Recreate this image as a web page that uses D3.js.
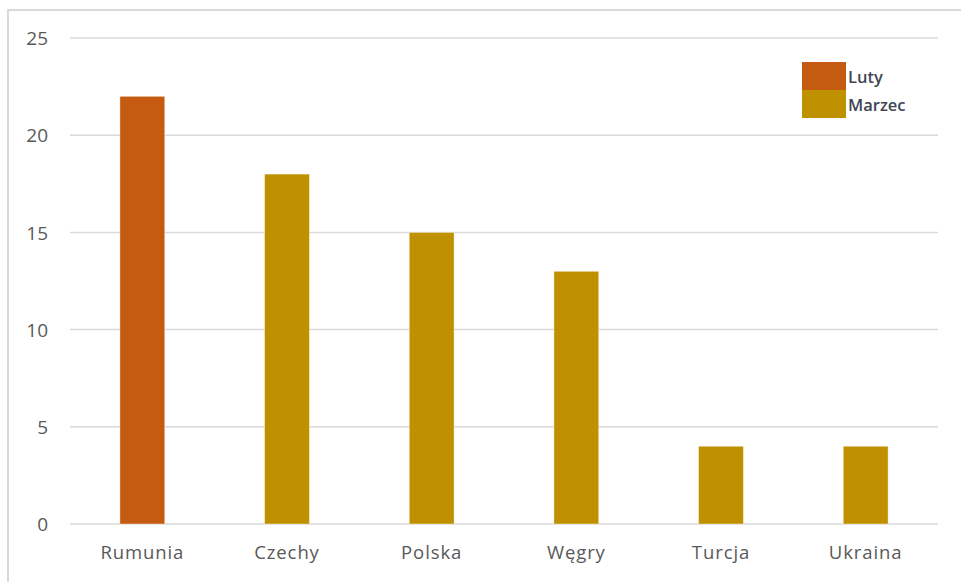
<!DOCTYPE html>
<html>
<head>
<meta charset="utf-8">
<script src="https://cdn.jsdelivr.net/npm/d3@7/dist/d3.min.js"></script>
<style>
  html, body { margin: 0; padding: 0; background: #fff; }
  svg { display: block; }
</style>
</head>
<body>
<svg id="chart" width="961" height="582"></svg>
<script>
// Data
const categories = ["Rumunia", "Czechy", "Polska", "Węgry", "Turcja", "Ukraina"];
const seriesNames = ["Luty", "Marzec"];
const luty   = [22, null, null, null, null, null];
const marzec = [null, 18, 15, 13, 4, 4];
const yTicks = [0, 5, 10, 15, 20, 25];
const seriesColors = ["#C55A11", "#BF9000"];

const svg = d3.select("#chart");
const W = 961, H = 582;

// Outer frame of the chart area
svg.append("rect")
  .attr("x", 8).attr("y", 10)
  .attr("width", W).attr("height", H)
  .attr("fill", "#fff")
  .attr("stroke", "#d9d9d9").attr("stroke-width", 2);

const plot = { left: 70, right: 938, top: 38, bottom: 524 };

const x = d3.scaleBand()
  .domain(categories)
  .range([plot.left, plot.right])
  .paddingInner(0.69)
  .paddingOuter(0.345);

const y = d3.scaleLinear()
  .domain([0, 25])
  .range([plot.bottom, plot.top]);

// Horizontal gridlines
svg.append("g")
  .selectAll("line")
  .data(yTicks)
  .join("line")
  .attr("x1", plot.left).attr("x2", plot.right)
  .attr("y1", d => y(d)).attr("y2", d => y(d))
  .attr("stroke", "#d9d9d9").attr("stroke-width", 1.5);

// Y axis labels
const yAxis = d3.axisLeft(y).tickValues(yTicks).tickSize(0).tickPadding(0);
const gy = svg.append("g")
  .attr("transform", `translate(48,0)`)
  .call(yAxis);
gy.select(".domain").remove();
gy.selectAll("text")
  .attr("font-family", "'Open Sans', sans-serif")
  .attr("font-size", 19)
  .attr("fill", "#595959")
  .attr("dy", "0.35em");

// X axis labels
const xAxis = d3.axisBottom(x).tickSize(0).tickPadding(0);
const gx = svg.append("g")
  .attr("transform", `translate(0,${plot.bottom + 22})`)
  .call(xAxis);
gx.select(".domain").remove();
gx.selectAll("text")
  .attr("font-family", "'Open Sans', sans-serif")
  .attr("font-size", 18.5)
  .attr("letter-spacing", 0.9)
  .attr("fill", "#595959")
  .attr("dy", "0.71em");

// Bars: each category carries one series value
const barData = [];
[luty, marzec].forEach((vals, si) => {
  vals.forEach((v, i) => {
    if (v != null) barData.push({ cat: categories[i], value: v, series: si });
  });
});

svg.append("g")
  .selectAll("rect")
  .data(barData)
  .join("rect")
  .attr("x", d => x(d.cat))
  .attr("width", x.bandwidth())
  .attr("y", d => y(d.value))
  .attr("height", d => y(0) - y(d.value))
  .attr("fill", d => seriesColors[d.series])
  .attr("stroke", "#fff")
  .attr("stroke-opacity", 0.5)
  .attr("stroke-width", 0.8);

// Legend
const legend = svg.append("g").attr("transform", "translate(802,62)");
const swH = 28, swW = 44;
const item = legend.selectAll("g")
  .data(seriesNames)
  .join("g")
  .attr("transform", (d, i) => `translate(0,${i * swH})`);
item.append("rect")
  .attr("width", swW).attr("height", swH)
  .attr("fill", (d, i) => seriesColors[i]);
item.append("text")
  .attr("x", swW + 2)
  .attr("y", swH / 2 + 1)
  .attr("dy", "0.35em")
  .attr("font-family", "'Open Sans', sans-serif")
  .attr("font-size", 16.5)
  .attr("font-weight", 600)
  .attr("fill", "#404654")
  .text(d => d);
</script>
</body>
</html>
